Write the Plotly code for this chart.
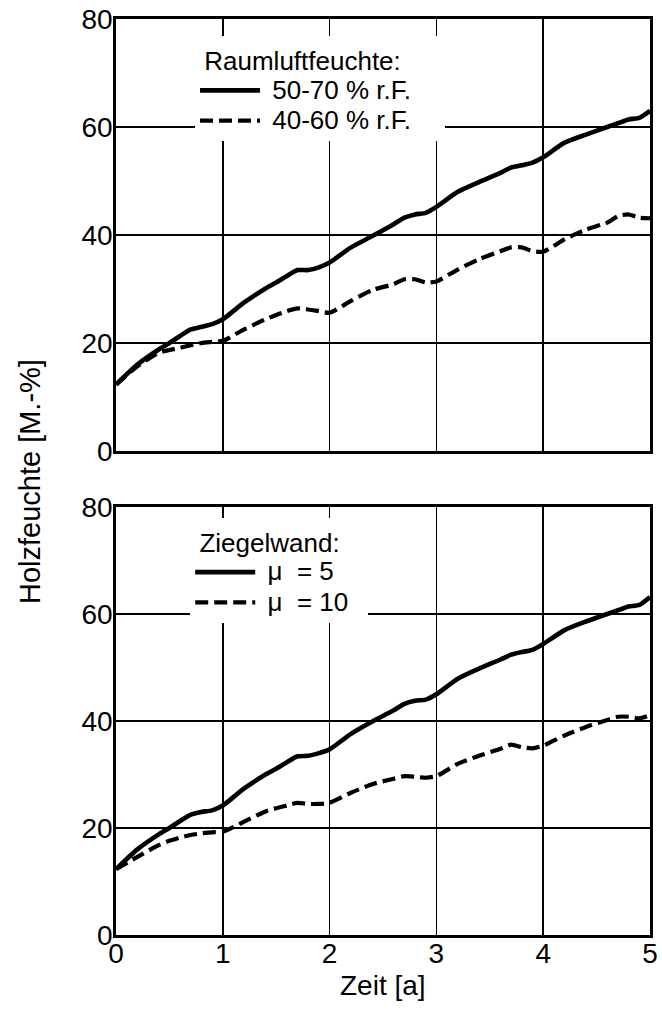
import plotly.graph_objects as go
from plotly.subplots import make_subplots

# --- data ---
t = [0, 0.2, 0.4, 0.5, 0.6, 0.7, 0.8, 0.9, 1.0, 1.2, 1.4, 1.5, 1.6, 1.7, 1.8, 1.9, 2.0,
     2.2, 2.4, 2.6, 2.7, 2.8, 2.9, 3.0, 3.2, 3.4, 3.6, 3.7, 3.8, 3.9, 4.0, 4.2, 4.4, 4.6,
     4.7, 4.8, 4.9, 5.0]

rf_50_70 = [12.3, 16.0, 18.8, 20.0, 21.3, 22.5, 23.0, 23.5, 24.4, 27.5, 30.1, 31.2, 32.4,
            33.5, 33.5, 34.0, 34.9, 37.7, 39.8, 42.0, 43.2, 43.8, 44.1, 45.2, 48.0, 49.8,
            51.5, 52.5, 52.9, 53.4, 54.4, 57.1, 58.6, 60.0, 60.7, 61.4, 61.7, 63.0]

rf_40_60 = [12.3, 15.7, 18.2, 18.7, 19.1, 19.6, 20.0, 20.2, 20.4, 22.5, 24.4, 25.2, 25.9,
            26.4, 26.2, 25.9, 25.6, 27.8, 29.8, 30.9, 31.8, 31.8, 31.2, 31.4, 33.6, 35.5,
            37.0, 37.7, 37.7, 37.0, 36.9, 39.2, 41.0, 42.3, 43.5, 43.8, 43.2, 43.1]

mu_5 = [12.3, 16.0, 18.8, 20.0, 21.3, 22.5, 23.0, 23.3, 24.2, 27.4, 30.0, 31.1, 32.3,
        33.4, 33.5, 34.0, 34.7, 37.6, 39.9, 42.0, 43.2, 43.8, 44.0, 45.0, 47.9, 49.8,
        51.5, 52.4, 52.9, 53.3, 54.4, 57.0, 58.6, 60.0, 60.7, 61.4, 61.7, 63.2]

mu_10 = [12.3, 14.6, 16.8, 17.6, 18.2, 18.7, 19.0, 19.2, 19.3, 21.2, 23.1, 23.7, 24.2,
         24.7, 24.5, 24.5, 24.7, 26.6, 28.2, 29.2, 29.7, 29.6, 29.4, 29.7, 32.0, 33.5,
         34.8, 35.6, 35.1, 34.9, 35.4, 37.3, 38.9, 40.2, 40.8, 40.8, 40.5, 41.1]

x_ticks = [0, 1, 2, 3, 4, 5]
y_ticks = [0, 20, 40, 60, 80]

FONT = "Liberation Sans, Arial, sans-serif"
NB = "\u00a0"


def big(s, trail=0):
    return '<span style="font-size:26px">' + NB + s + NB * trail + '</span>'


fig = make_subplots(rows=2, cols=1, vertical_spacing=0.0)

solid = dict(color="black", width=4.6, shape="spline", smoothing=0.6)
dashed = dict(color="black", width=4.2, dash="13px,6px", shape="spline", smoothing=0.6)

fig.add_trace(go.Scatter(x=t, y=rf_50_70, mode="lines", line=solid,
                         name=big("50-70 % r.F.", 4), legend="legend"), row=1, col=1)
fig.add_trace(go.Scatter(x=t, y=rf_40_60, mode="lines", line=dashed,
                         name=big("40-60 % r.F.", 4), legend="legend"), row=1, col=1)
fig.add_trace(go.Scatter(x=t, y=mu_5, mode="lines", line=solid,
                         name=big("\u03bc" + NB + NB + "= 5", 2), legend="legend2"), row=2, col=1)
fig.add_trace(go.Scatter(x=t, y=mu_10, mode="lines", line=dashed,
                         name=big("\u03bc" + NB + NB + "= 10", 2), legend="legend2"), row=2, col=1)

top_dom = [0.5284, 1.0]
bot_dom = [0.0, 0.4672]

axis_common = dict(showline=True, linecolor="black", linewidth=2.8, mirror=True,
                   showgrid=True, gridcolor="black", gridwidth=1.6, zeroline=False,
                   automargin=False, ticks="", ticklabeloverflow="allow",
                   tickfont=dict(family=FONT, size=28, color="black"))

fig.update_xaxes(range=[0, 5], tickvals=x_ticks, ticklabelstandoff=-8, **axis_common)
fig.update_yaxes(range=[0, 80], tickvals=y_ticks, ticklabelstandoff=-5, **axis_common)
fig.update_xaxes(showticklabels=False, row=1, col=1)
fig.update_yaxes(domain=top_dom, row=1, col=1)
fig.update_yaxes(domain=bot_dom, row=2, col=1)

legend_common = dict(bgcolor="white", borderwidth=0, itemwidth=60,
                     font=dict(family=FONT, size=21, color="black"),
                     xanchor="left", yanchor="top", tracegroupgap=0,
                     itemclick=False, itemdoubleclick=False)

fig.update_layout(
    width=662, height=1012,
    margin=dict(l=116, r=12, t=19, b=77, autoexpand=False),
    paper_bgcolor="white", plot_bgcolor="white",
    font=dict(family=FONT, color="black"),
    legend=dict(x=0.148, y=0.981,
                title=dict(text=NB + "Raumluftfeuchte:",
                           font=dict(family=FONT, size=26, color="black")),
                **legend_common),
    legend2=dict(x=0.139, y=0.455,
                 title=dict(text=NB + "Ziegelwand:",
                            font=dict(family=FONT, size=26, color="black")),
                 **legend_common),
    annotations=[
        dict(text="Holzfeuchte [M.-%]", xref="paper", yref="paper", x=-0.161, y=0.4945,
             xanchor="center", yanchor="middle", textangle=-90, showarrow=False,
             font=dict(family=FONT, size=29, color="black")),
        dict(text="Zeit [a]", xref="paper", yref="paper", x=0.5, y=-0.0546,
             xanchor="center", yanchor="middle", showarrow=False,
             font=dict(family=FONT, size=28, color="black")),
    ],
)

fig.write_html("out.html",
               config={"displayModeBar": False, "staticPlot": True},
               post_script="document.body.style.margin='0';document.body.style.overflow='hidden';")
